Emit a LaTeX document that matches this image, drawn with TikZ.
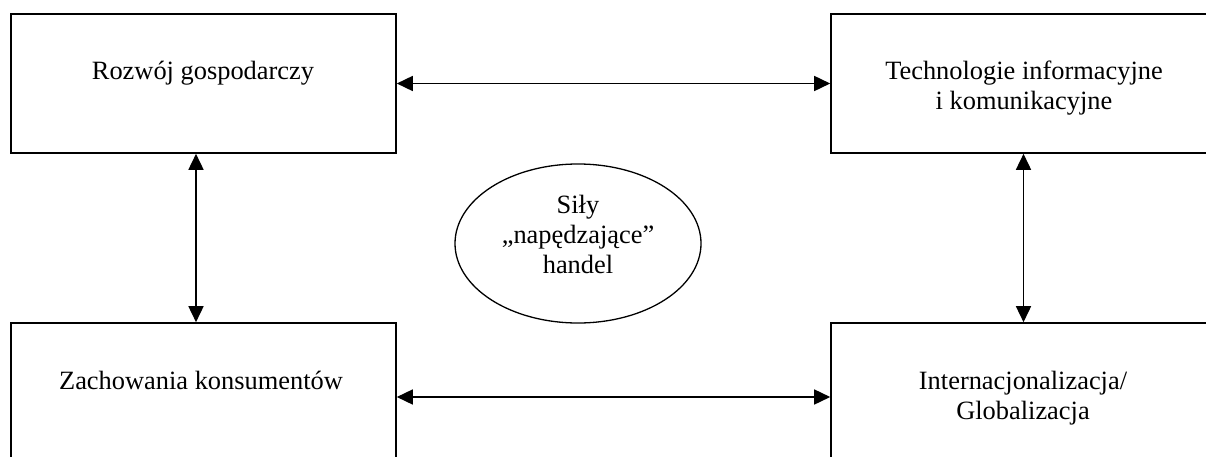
\documentclass[tikz,border=0pt]{standalone}
\usepackage{fontspec}
\setmainfont{Liberation Serif}
\usetikzlibrary{arrows.meta,shapes.geometric}
\begin{document}
\begin{tikzpicture}[x=1pt,y=1pt,
  factor/.style={draw,line width=1.6pt,inner sep=0pt,minimum width=385pt},
  caption/.style={font=\fontsize{26.4}{30}\selectfont,align=center,inner sep=0pt,anchor=base},
  link/.style={line width=1.6pt,{Triangle[length=16pt,width=15pt]}-{Triangle[length=16pt,width=15pt]}}]
\useasboundingbox (0,0) rectangle (1206,-457);
\clip (0,0) rectangle (1206,-457);
\fill[white] (0,0) rectangle (1206,-457);
% the four factors
\node[factor,minimum height=139pt] (rozwoj) at (203.5,-83.5) {};
\node[factor,minimum height=139pt] (tech)   at (1023.5,-83.5) {};
\node[factor,minimum height=148pt] (zach)   at (203.5,-397) {};
\node[factor,minimum height=148pt] (glob)   at (1023.5,-397) {};
% captions, placed on the baseline of their last line
\node[caption] (rozwojT) at (203,-80)   {Rozwój gospodarczy};
\node[caption] (techT)   at (1024,-110) {Technologie informacyjne\\i komunikacyjne};
\node[caption] (zachT)   at (201,-389)  {Zachowania konsumentów};
\node[caption] (globT)   at (1023,-419) {Internacjonalizacja/\\Globalizacja};
% central ellipse
\node[draw,ellipse,line width=1.3pt,minimum width=246pt,minimum height=159pt,inner sep=0pt] (sily) at (578,-243.5) {};
\node[caption] (silyT) at (578,-273) {Siły\\„napędzające”\\handel};
% mutual influences
\draw[link] (rozwoj.east) -- (tech.west);
\draw[link] (zach.east) -- (glob.west);
\draw[link] ([xshift=-7.5pt]rozwoj.south) -- ([xshift=-7.5pt]zach.north);
\draw[link] (tech.south) -- (glob.north);
\end{tikzpicture}
\end{document}
